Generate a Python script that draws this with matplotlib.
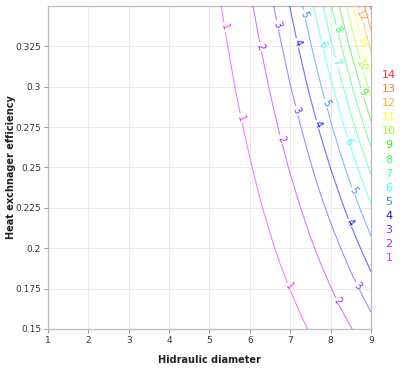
import numpy as np
import matplotlib
matplotlib.use("Agg")
import matplotlib.pyplot as plt

# grid (z at each diameter / efficiency point)
diam = [5.0, 5.25, 5.5, 5.75, 6.0, 6.25, 6.5, 6.75, 7.0, 7.25, 7.5, 7.75, 8.0, 8.25, 8.5, 8.75, 9.0]
eff = [0.15, 0.175, 0.2, 0.225, 0.25, 0.275, 0.3, 0.325, 0.35]
z_rows = [
    [0.14, 0.18, 0.22, 0.28, 0.34, 0.42, 0.51, 0.62, 0.74, 0.88, 1.05, 1.23, 1.45, 1.69, 1.96, 2.26, 2.61],
    [0.19, 0.24, 0.30, 0.38, 0.47, 0.57, 0.70, 0.84, 1.01, 1.20, 1.43, 1.68, 1.97, 2.30, 2.66, 3.08, 3.55],
    [0.25, 0.31, 0.39, 0.49, 0.61, 0.75, 0.91, 1.10, 1.32, 1.57, 1.86, 2.19, 2.57, 3.00, 3.48, 4.02, 4.63],
    [0.31, 0.40, 0.50, 0.62, 0.77, 0.95, 1.15, 1.39, 1.67, 1.99, 2.36, 2.78, 3.25, 3.79, 4.40, 5.09, 5.86],
    [0.38, 0.49, 0.62, 0.77, 0.95, 1.17, 1.42, 1.72, 2.06, 2.45, 2.91, 3.43, 4.02, 4.68, 5.44, 6.29, 7.24],
    [0.46, 0.59, 0.75, 0.93, 1.15, 1.41, 1.72, 2.08, 2.49, 2.97, 3.52, 4.15, 4.86, 5.67, 6.58, 7.61, 8.76],
    [0.55, 0.70, 0.89, 1.11, 1.37, 1.68, 2.05, 2.47, 2.97, 3.53, 4.19, 4.93, 5.78, 6.74, 7.83, 9.05, 10.42],
    [0.65, 0.83, 1.04, 1.30, 1.61, 1.98, 2.40, 2.90, 3.48, 4.15, 4.91, 5.79, 6.79, 7.92, 9.19, 10.62, 12.23],
    [0.75, 0.96, 1.21, 1.51, 1.87, 2.29, 2.79, 3.37, 4.04, 4.81, 5.70, 6.72, 7.87, 9.18, 10.66, 12.32, 14.18],
]
levels = [1, 2, 3, 4, 5, 6, 7, 8, 9, 10, 11, 12, 13, 14]
level_colors = ["#ff22ff", "#bb22ff", "#7733ff", "#1111ee", "#3388ff", "#22ffff", "#33ffbb",
                "#33ff66", "#33ee33", "#99ff22", "#ffff22", "#ffaa33", "#ff7733", "#ff2a2a"]

xticks = [1, 2, 3, 4, 5, 6, 7, 8, 9]
yticks = [0.15, 0.175, 0.2, 0.225, 0.25, 0.275, 0.3, 0.325]
ytick_labels = ["0.15", "0.175", "0.2", "0.225", "0.25", "0.275", "0.3", "0.325"]

fig = plt.figure(figsize=(4.03, 3.72), dpi=100)
ax = fig.add_axes([0.119, 0.1156, 0.8016, 0.8684])

X, Y = np.meshgrid(diam, eff)
Z = np.array(z_rows)
cs = ax.contour(X, Y, Z, levels=levels, colors=level_colors, linewidths=0.8, alpha=0.6, zorder=3)

# label spots (near where the original put them)
spots = [(5.33, 0.336), (5.76, 0.28), (6.94, 0.175),
         (6.23, 0.324), (6.75, 0.267), (8.15, 0.166),
         (6.67, 0.338), (7.12, 0.284), (8.65, 0.176),
         (7.12, 0.326), (7.61, 0.275), (8.48, 0.216),
         (7.28, 0.343), (7.86, 0.289), (8.52, 0.234),
         (7.74, 0.325), (8.43, 0.265),
         (8.11, 0.314), (8.11, 0.334), (8.77, 0.296),
         (8.73, 0.312), (8.77, 0.327), (8.73, 0.343)]
lbls = ax.clabel(cs, fmt="%d", fontsize=7, inline=True, inline_spacing=2, manual=spots)
for t in lbls:
    t.set_alpha(1)
    t.set_color(level_colors[levels.index(int(t.get_text()))])

ax.set_xlim(1, 9)
ax.set_ylim(0.15, 0.35)
ax.set_xticks(xticks)
ax.set_yticks(yticks)
ax.set_yticklabels(ytick_labels)
ax.grid(True, color="#ebebeb", lw=0.7, zorder=0)
ax.tick_params(labelsize=6.5, length=3, width=0.7, color="#999999", labelcolor="#333333", pad=2)
for s in ax.spines.values():
    s.set_color("#bbbbbb")
    s.set_linewidth(0.9)

ax.set_xlabel("Hidraulic diameter", fontsize=7, fontweight="bold", color="#222222")
ax.set_ylabel("Heat exchnager efficiency", fontsize=7, fontweight="bold", color="#222222")
ax.xaxis.set_label_coords(0.5, -0.08)
ax.yaxis.set_label_coords(-0.098, 0.5)

# colour key on the right
for i, (lv, c) in enumerate(zip(levels[::-1], level_colors[::-1])):
    fig.text(0.965, 1 - (75 + i * 14.1) / 372, str(lv), color=c, fontsize=8,
             ha="center", va="center")

fig.savefig("out.png", dpi=100)
